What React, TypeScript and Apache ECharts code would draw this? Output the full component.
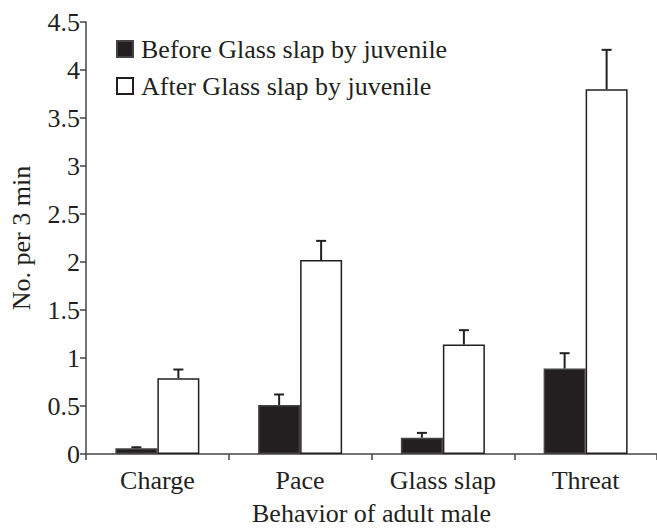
import React, { useEffect, useRef } from "react";
import * as echarts from "echarts";

const categories = ["Charge", "Pace", "Glass slap", "Threat"];
const beforeValues = [0.06, 0.51, 0.17, 0.89];
const beforeErrors = [0.01, 0.11, 0.05, 0.16];
const afterValues = [0.79, 2.02, 1.14, 3.8];
const afterErrors = [0.09, 0.2, 0.15, 0.41];
const yTicks = ["0", "0.5", "1", "1.5", "2", "2.5", "3", "3.5", "4", "4.5"];

const FONT = "'Liberation Serif', 'Times New Roman', serif";
const BAR_W = 42;

function errorSeries(values: number[], errs: number[], side: number) {
  return {
    type: "custom",
    z: 5,
    silent: true,
    encode: { x: 0, y: 1 },
    data: values.map((v, i) => [i, v, errs[i]]),
    renderItem: (params: any, api: any) => {
      const idx = api.value(0);
      const v = api.value(1);
      const e = api.value(2);
      const base = api.coord([idx, v]);
      const top = api.coord([idx, v + e]);
      const x = base[0] + side * (BAR_W / 2);
      const style = { stroke: "#231f20", lineWidth: 2 };
      return {
        type: "group",
        children: [
          { type: "line", shape: { x1: x, y1: base[1], x2: x, y2: top[1] }, style },
          { type: "line", shape: { x1: x - 5, y1: top[1], x2: x + 5, y2: top[1] }, style },
        ],
      };
    },
  };
}

export default function App() {
  const ref = useRef<HTMLDivElement>(null);
  useEffect(() => {
    if (!ref.current) return;
    const chart = echarts.init(ref.current, null, { renderer: "svg" });
    chart.setOption({
      animation: false,
      backgroundColor: "#ffffff",
      textStyle: { fontFamily: FONT },
      grid: { left: 82, right: -1, top: 22, bottom: 72 },
      legend: {
        left: 111,
        top: 31,
        orient: "vertical",
        itemWidth: 16,
        itemHeight: 16,
        itemGap: 11,
        icon: "rect",
        textStyle: { fontFamily: FONT, fontSize: 26, color: "#231f20", lineHeight: 26, padding: [0, 0, 0, 3] },
        data: ["Before Glass slap by juvenile", "After Glass slap by juvenile"],
      },
      xAxis: {
        type: "category",
        data: categories,
        name: "Behavior of adult male",
        nameLocation: "middle",
        nameGap: 46,
        nameTextStyle: { fontFamily: FONT, fontSize: 26, color: "#231f20" },
        boundaryGap: true,
        axisLine: { lineStyle: { color: "#444", width: 1.5 } },
        axisTick: { show: true, length: 6, inside: false, lineStyle: { color: "#444", width: 1.5 } },
        axisLabel: { fontFamily: FONT, fontSize: 26, color: "#231f20", margin: 13 },
      },
      yAxis: {
        type: "value",
        min: 0,
        max: 4.5,
        interval: 0.5,
        name: "No. per 3 min",
        nameLocation: "middle",
        nameGap: 52,
        nameTextStyle: { fontFamily: FONT, fontSize: 26, color: "#231f20" },
        splitLine: { show: false },
        axisLine: { show: true, lineStyle: { color: "#444", width: 1.5 } },
        axisTick: { show: true, length: 6, lineStyle: { color: "#444", width: 1.5 } },
        axisLabel: {
          fontFamily: FONT,
          fontSize: 26,
          color: "#231f20",
          margin: 6,
          formatter: (v: number) => {
            const i = Math.round(v / 0.5);
            return yTicks[i] ?? String(v);
          },
        },
      },
      series: [
        {
          name: "Before Glass slap by juvenile",
          type: "bar",
          data: beforeValues,
          barWidth: BAR_W,
          barGap: "0%",
          itemStyle: { color: "#231f20", borderColor: "#444", borderWidth: 1.5 },
        },
        {
          name: "After Glass slap by juvenile",
          type: "bar",
          data: afterValues,
          barWidth: BAR_W,
          barGap: "0%",
          itemStyle: { color: "#ffffff", borderColor: "#231f20", borderWidth: 1.5 },
        },
        errorSeries(beforeValues, beforeErrors, -1),
        errorSeries(afterValues, afterErrors, 1),
      ],
    });
    return () => chart.dispose();
  }, []);
  return <div ref={ref} style={{ width: 657, height: 531, position: "absolute", left: 0, top: 0 }} />;
}
